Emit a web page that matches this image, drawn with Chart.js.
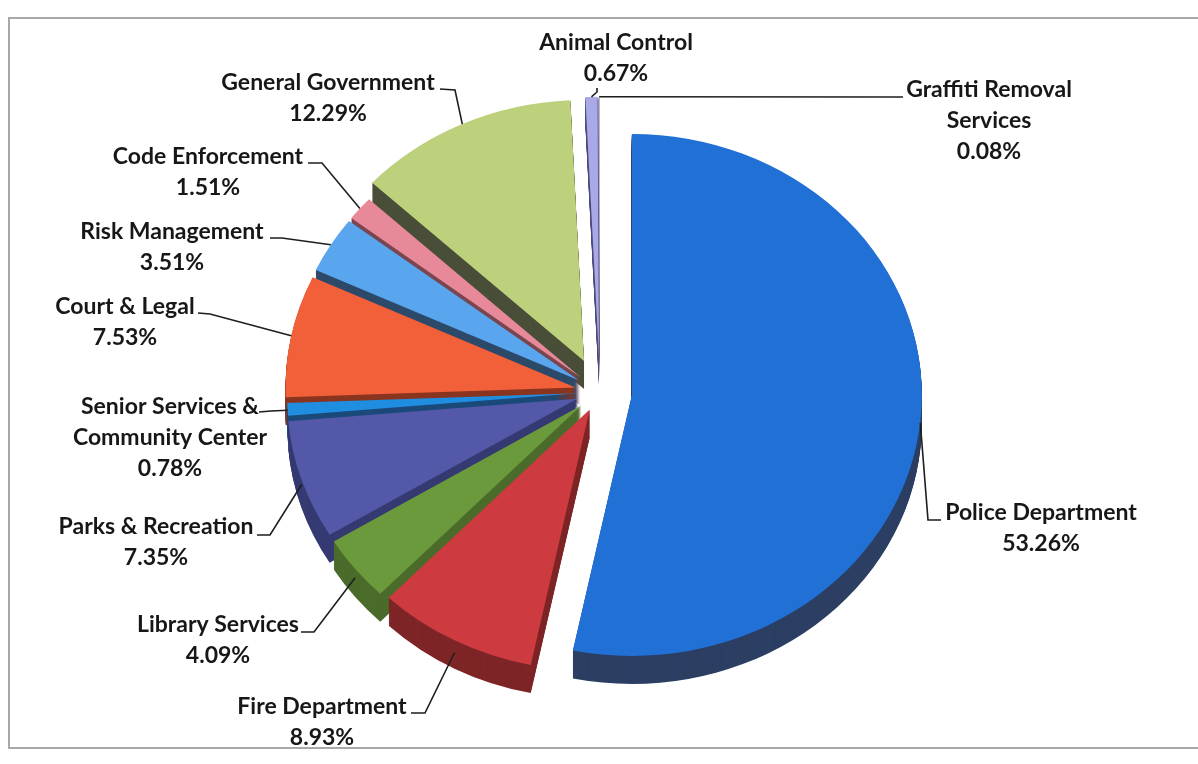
<!DOCTYPE html>
<html>
<head>
<meta charset="utf-8">
<script src="https://cdn.jsdelivr.net/npm/chart.js@4.4.1/dist/chart.umd.min.js"></script>
<style>
  html, body { margin: 0; background: #fff; }
  #wrap { position: relative; width: 1198px; height: 764px; overflow: hidden; }
  #frame { position: absolute; left: 8px; top: 17px; width: 1196px; height: 728px; border: 2px solid #a9a9a9; border-right: none; }
  canvas { position: absolute; left: 0; top: 0; }
</style>
</head>
<body>
<div id="wrap">
  <div id="frame"></div>
  <canvas id="budgetPie" width="1198" height="764"></canvas>
</div>
<script>
// budget share by department, clockwise from 12 o'clock
const departments = [
  "Police Department",
  "Fire Department",
  "Library Services",
  "Parks & Recreation",
  "Senior Services &\nCommunity Center",
  "Court & Legal",
  "Risk Management",
  "Code Enforcement",
  "General Government",
  "Animal Control",
  "Graffiti Removal\nServices"
];
const shares = [53.26, 8.93, 4.09, 7.35, 0.78, 7.53, 3.51, 1.51, 12.29, 0.67, 0.08];

// styling
const topColors  = ["#2170d6", "#cd3a3f", "#6a9a3c", "#5359a8", "#1f8de0", "#f2603a", "#5aa6ee", "#e8899a", "#bdd07b", "#a9a9e8", "#c9c2de"];
const sideColors = ["#2c3f63", "#7e2527", "#4b6b2b", "#363a72", "#1b4a7a", "#8a3520", "#2d4a6a", "#7a4650", "#484e38", "#50507c", "#5a5670"];
const explode = [32, 22, 24, 24, 23, 25, 25, 25, 38, 38, 38];
const TILT = 0.9;
const DEPTH = 28;
const LINE = 31;

// where each label block sits and the elbow of its leader line
const labelSpots = [
  { x: 1041, y: 513, leader: [[941, 520], [928, 520]] },
  { x: 322, y: 707, leader: [[411, 713], [425, 713]] },
  { x: 218, y: 625, leader: [[301, 632], [314, 632]] },
  { x: 156, y: 527, leader: [[257, 535], [270, 535]] },
  { x: 170, y: 407, leader: [[259, 412], [271, 411]] },
  { x: 125, y: 307, leader: [[198, 313], [210, 314]] },
  { x: 172, y: 232, leader: [[270, 238], [282, 238]] },
  { x: 208, y: 157, leader: [[308, 163], [322, 163]] },
  { x: 328, y: 83,  leader: [[440, 89], [455, 90]] },
  { x: 616, y: 43,  leader: [[597, 88], [597, 92]] },
  { x: 989, y: 90,  leader: [[903, 97], [896, 97]] }
];

function centerOf(chart) {
  const a = chart.chartArea;
  return { cx: (a.left + a.right) / 2, cy: (a.top + a.bottom) / 2 };
}

function squash(ctx, cy) {
  ctx.translate(0, cy);
  ctx.scale(1, TILT);
  ctx.translate(0, -cy);
}

const pie3d = {
  id: "pie3d",
  afterDatasetUpdate(chart, args) {
    const { cx, cy } = centerOf(chart);
    args.meta.data.forEach((arc, i) => {
      const mid = (arc.startAngle + arc.endAngle) / 2;
      arc.x = cx + Math.cos(mid) * explode[i];
      arc.y = cy + Math.sin(mid) * explode[i];
    });
  },
  beforeDatasetsDraw(chart) {
    const ctx = chart.ctx;
    const { cy } = centerOf(chart);
    const arcs = chart.getDatasetMeta(0).data;
    // extrude each slice downwards to get the side walls
    for (let d = DEPTH; d > 0; d--) {
      ctx.save();
      ctx.translate(0, d);
      squash(ctx, cy);
      arcs.forEach((arc, i) => {
        ctx.beginPath();
        ctx.moveTo(arc.x, arc.y);
        ctx.arc(arc.x, arc.y, arc.outerRadius, arc.startAngle, arc.endAngle);
        ctx.closePath();
        ctx.fillStyle = sideColors[i];
        ctx.fill();
      });
      ctx.restore();
    }
    ctx.save();
    squash(ctx, cy);
  },
  afterDatasetsDraw(chart) {
    chart.ctx.restore();
  },
  afterDraw(chart) {
    const ctx = chart.ctx;
    const { cy } = centerOf(chart);
    const arcs = chart.getDatasetMeta(0).data;
    ctx.save();
    ctx.font = "bold 23px Lato";
    ctx.fillStyle = "#171717";
    ctx.strokeStyle = "#1e1e1e";
    ctx.lineWidth = 1.6;
    ctx.textAlign = "center";
    ctx.textBaseline = "middle";
    labelSpots.forEach((spot, i) => {
      const lines = departments[i].split("\n").concat(shares[i].toFixed(2) + "%");
      lines.forEach((t, j) => ctx.fillText(t, spot.x, spot.y + j * LINE));

      const arc = arcs[i];
      const mid = (arc.startAngle + arc.endAngle) / 2;
      const px = arc.x + Math.cos(mid) * arc.outerRadius;
      let py = cy + (arc.y + Math.sin(mid) * arc.outerRadius - cy) * TILT;
      if (Math.sin(mid) > 0) py += DEPTH * Math.sin(mid) * 0.5;
      ctx.beginPath();
      ctx.moveTo(spot.leader[0][0], spot.leader[0][1]);
      ctx.lineTo(spot.leader[1][0], spot.leader[1][1]);
      ctx.lineTo(px, py);
      ctx.stroke();
    });
    ctx.restore();
  }
};

new Chart(document.getElementById("budgetPie"), {
  type: "pie",
  data: {
    labels: departments,
    datasets: [{
      data: shares,
      backgroundColor: topColors,
      borderWidth: 0,
      radius: 290,
      clip: false
    }]
  },
  options: {
    responsive: false,
    animation: false,
    events: [],
    layout: { padding: { left: 40, right: 38, top: 40, bottom: 20 } },
    plugins: {
      legend: { display: false },
      tooltip: { enabled: false }
    }
  },
  plugins: [pie3d]
});
</script>
</body>
</html>
